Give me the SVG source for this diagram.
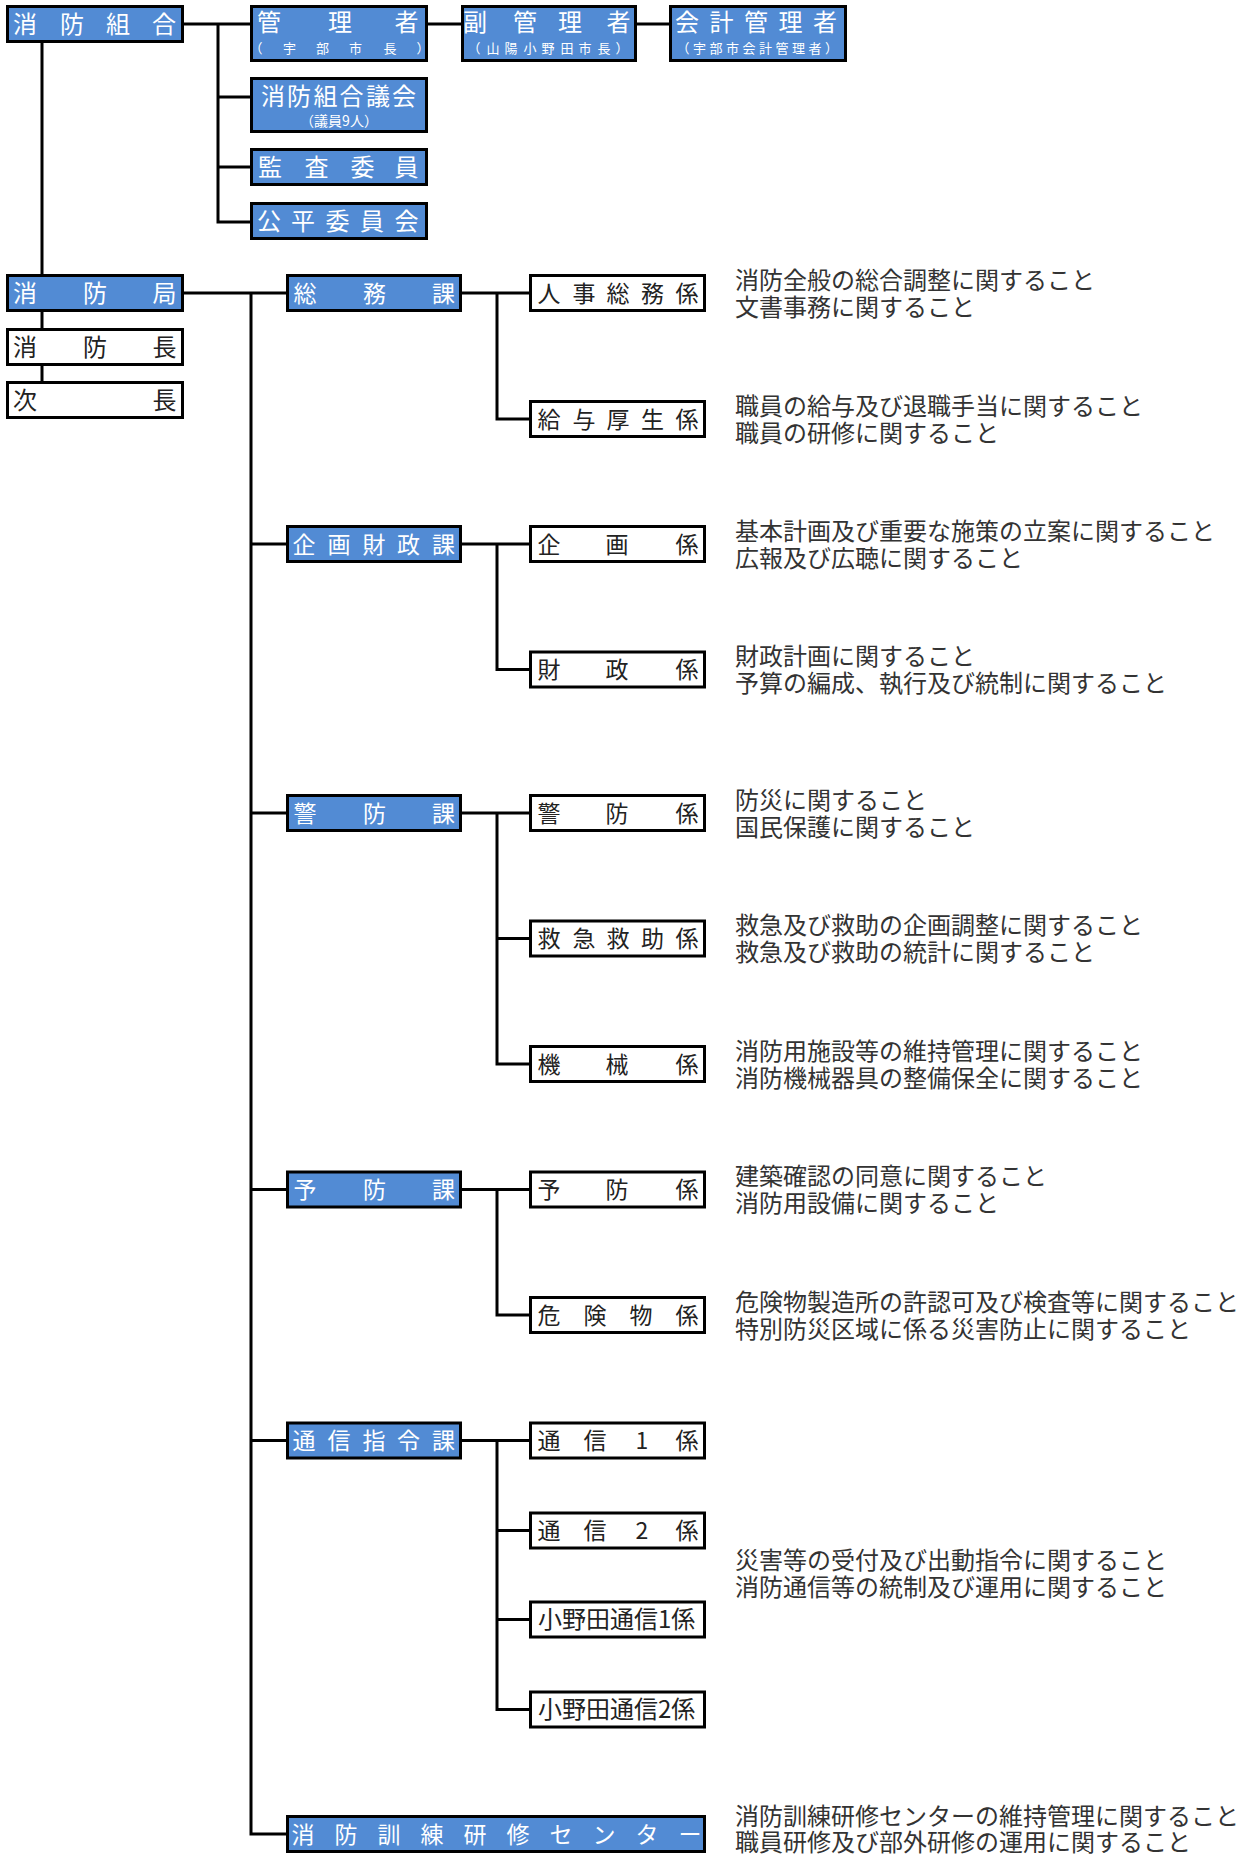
<svg xmlns="http://www.w3.org/2000/svg" width="1247" height="1859" viewBox="0 0 1247 1859">
<style>
.bb{fill:#528bd4;stroke:#000;stroke-width:3}
.wb{fill:#fff;stroke:#000;stroke-width:3}
.cn{fill:none;stroke:#000;stroke-width:3}
text{font-family:"Noto Sans CJK JP","Noto Sans CJK SC",sans-serif}
.wt{fill:#fff;font-size:23px;text-anchor:middle}
.ws{fill:#fff;font-size:13px;text-anchor:middle}
.bt{fill:#222;font-size:23px;text-anchor:middle}
.ds{fill:#333;font-size:24px}
</style>
<rect width="1247" height="1859" fill="#fff"/>
<g id="connectors">
<path class="cn" d="M184,24H250M218,24V222H250M218,97H250M218,167H250M428,24H461M637,24H669"/>
<path class="cn" d="M42,43V274M42,312V328M42,366V381"/>
<path class="cn" d="M184,293H286M251,293V1834H286M251,544H286M251,813H286M251,1189.5H286M251,1440.5H286"/>
<path class="cn" d="M462,293H529M497,293V419H529"/>
<path class="cn" d="M462,544H529M497,544V669.5H529"/>
<path class="cn" d="M462,813H529M497,813V1064H529M497,938.5H529"/>
<path class="cn" d="M462,1189.5H529M497,1189.5V1315H529"/>
<path class="cn" d="M462,1440.5H529M497,1440.5V1709.5H529M497,1530.5H529M497,1619.5H529"/>
</g>
<g id="n-kumiai"><rect class="bb" x="7.5" y="6.5" width="175" height="35"/><text class="wt" x="25 72 118 164" y="32.5" style="font-size:24px">消防組合</text></g>
<g id="n-kanrisha"><rect class="bb" x="251.5" y="6.5" width="175" height="54"/><text class="wt" x="269 340 406.5" y="31" style="font-size:24px">管理者</text><text class="ws" x="256 289.5 322.5 355.5 390 423" y="53">（宇部市長）</text></g>
<g id="n-fukukanrisha"><rect class="bb" x="462.5" y="6.5" width="173" height="54"/><text class="wt" x="475 525 570 618.5" y="31" style="font-size:24px">副管理者</text><text class="ws" x="474 493 511 530 548 567 585 604 622" y="53">（山陽小野田市長）</text></g>
<g id="n-kaikei"><rect class="bb" x="670.5" y="6.5" width="175" height="54"/><text class="wt" x="687 721.5 756 790.5 825" y="31" style="font-size:24px">会計管理者</text><text class="ws" x="683 699.5 716 732.5 749 765.5 782 798.5 815 831.5" y="53">（宇部市会計管理者）</text></g>
<g id="n-gikai"><rect class="bb" x="251.5" y="78.5" width="175" height="53"/><text class="wt" x="273 299 325.5 351.5 378 404" y="104.5" style="font-size:24px">消防組合議会</text><text class="ws" x="339" y="125.5" style="font-size:14px">（議員9人）</text></g>
<g id="n-kansa"><rect class="bb" x="251.5" y="149.5" width="175" height="35"/><text class="wt" x="270 316.5 362.5 406.5" y="176" style="font-size:24px">監査委員</text></g>
<g id="n-kohei"><rect class="bb" x="251.5" y="203.5" width="175" height="35"/><text class="wt" x="269 303 337.5 372 406.5" y="230" style="font-size:24px">公平委員会</text></g>
<g id="n-kyoku"><rect class="bb" x="7.5" y="275.5" width="175" height="35"/><text class="wt" x="25 95 164.5" y="302" style="font-size:24px">消防局</text></g>
<g id="n-shobocho"><rect class="wb" x="7.5" y="329.5" width="175" height="35"/><text class="bt" x="25 95 164.5" y="356" style="font-size:24px">消防長</text></g>
<g id="n-jicho"><rect class="wb" x="7.5" y="382.5" width="175" height="35"/><text class="bt" x="25 164.5" y="409" style="font-size:24px">次長</text></g>
<g id="n-somuka"><rect class="bb" x="287.5" y="275.5" width="173" height="35"/><text class="wt" x="305 374.5 443.5" y="301.5">総務課</text></g>
<g id="n-kikakuzaiseika"><rect class="bb" x="287.5" y="526.5" width="173" height="35"/><text class="wt" x="304 339 374 408.5 443.5" y="552.5">企画財政課</text></g>
<g id="n-keiboka"><rect class="bb" x="287.5" y="795.5" width="173" height="35"/><text class="wt" x="305 374.5 443.5" y="821.5">警防課</text></g>
<g id="n-yoboka"><rect class="bb" x="287.5" y="1172" width="173" height="35"/><text class="wt" x="305 374.5 443.5" y="1198">予防課</text></g>
<g id="n-tsushinka"><rect class="bb" x="287.5" y="1423" width="173" height="35"/><text class="wt" x="304 339 374 408.5 443.5" y="1449">通信指令課</text></g>
<g id="n-center"><rect class="bb" x="287.5" y="1816.5" width="417" height="35"/><text class="wt" x="303 346 389 432 475 518 561 604 647 690" y="1842.5">消防訓練研修センター</text></g>
<g id="n-jinji"><rect class="wb" x="530.5" y="275.5" width="174" height="35"/><text class="bt" x="549 584 618 652.5 687" y="301.5">人事総務係</text></g>
<g id="n-kyuyo"><rect class="wb" x="530.5" y="401.5" width="174" height="35"/><text class="bt" x="549 584 618 652.5 687" y="427.5">給与厚生係</text></g>
<g id="n-kikaku"><rect class="wb" x="530.5" y="526.5" width="174" height="35"/><text class="bt" x="549 617 687" y="552.5">企画係</text></g>
<g id="n-zaisei"><rect class="wb" x="530.5" y="652" width="174" height="35"/><text class="bt" x="549 617 687" y="678">財政係</text></g>
<g id="n-keibokakari"><rect class="wb" x="530.5" y="795.5" width="174" height="35"/><text class="bt" x="549 617 687" y="821.5">警防係</text></g>
<g id="n-kyukyu"><rect class="wb" x="530.5" y="921" width="174" height="35"/><text class="bt" x="549 584 618 652.5 687" y="947">救急救助係</text></g>
<g id="n-kikai"><rect class="wb" x="530.5" y="1046.5" width="174" height="35"/><text class="bt" x="549 617 687" y="1072.5">機械係</text></g>
<g id="n-yobokakari"><rect class="wb" x="530.5" y="1172" width="174" height="35"/><text class="bt" x="549 617 687" y="1198">予防係</text></g>
<g id="n-kikenbutsu"><rect class="wb" x="530.5" y="1297.5" width="174" height="35"/><text class="bt" x="549 595 641 687" y="1323.5">危険物係</text></g>
<g id="n-tsushin1"><rect class="wb" x="530.5" y="1423" width="174" height="35"/><text class="bt" x="549 595 642 687" y="1449">通信1係</text></g>
<g id="n-tsushin2"><rect class="wb" x="530.5" y="1513" width="174" height="35"/><text class="bt" x="549 595 642 687" y="1539">通信2係</text></g>
<g id="n-onoda1"><rect class="wb" x="530.5" y="1602" width="174" height="35"/><text class="bt" x="538" y="1628" style="text-anchor:start;font-size:24px">小野田通信1係</text></g>
<g id="n-onoda2"><rect class="wb" x="530.5" y="1692" width="174" height="35"/><text class="bt" x="538" y="1718" style="text-anchor:start;font-size:24px">小野田通信2係</text></g>
<g id="descriptions">
<text class="ds" x="735" y="288.5">消防全般の総合調整に関すること<tspan x="735" dy="27">文書事務に関すること</tspan></text>
<text class="ds" x="735" y="414.5">職員の給与及び退職手当に関すること<tspan x="735" dy="27">職員の研修に関すること</tspan></text>
<text class="ds" x="735" y="539.5">基本計画及び重要な施策の立案に関すること<tspan x="735" dy="27">広報及び広聴に関すること</tspan></text>
<text class="ds" x="735" y="665">財政計画に関すること<tspan x="735" dy="27">予算の編成、執行及び統制に関すること</tspan></text>
<text class="ds" x="735" y="808.5">防災に関すること<tspan x="735" dy="27">国民保護に関すること</tspan></text>
<text class="ds" x="735" y="934">救急及び救助の企画調整に関すること<tspan x="735" dy="27">救急及び救助の統計に関すること</tspan></text>
<text class="ds" x="735" y="1059.5">消防用施設等の維持管理に関すること<tspan x="735" dy="27">消防機械器具の整備保全に関すること</tspan></text>
<text class="ds" x="735" y="1185">建築確認の同意に関すること<tspan x="735" dy="27">消防用設備に関すること</tspan></text>
<text class="ds" x="735" y="1310.5">危険物製造所の許認可及び検査等に関すること<tspan x="735" dy="27">特別防災区域に係る災害防止に関すること</tspan></text>
<text class="ds" x="735" y="1569">災害等の受付及び出動指令に関すること<tspan x="735" dy="27">消防通信等の統制及び運用に関すること</tspan></text>
<text class="ds" x="735" y="1825">消防訓練研修センターの維持管理に関すること<tspan x="735" dy="26">職員研修及び部外研修の運用に関すること</tspan></text>
</g>
</svg>
